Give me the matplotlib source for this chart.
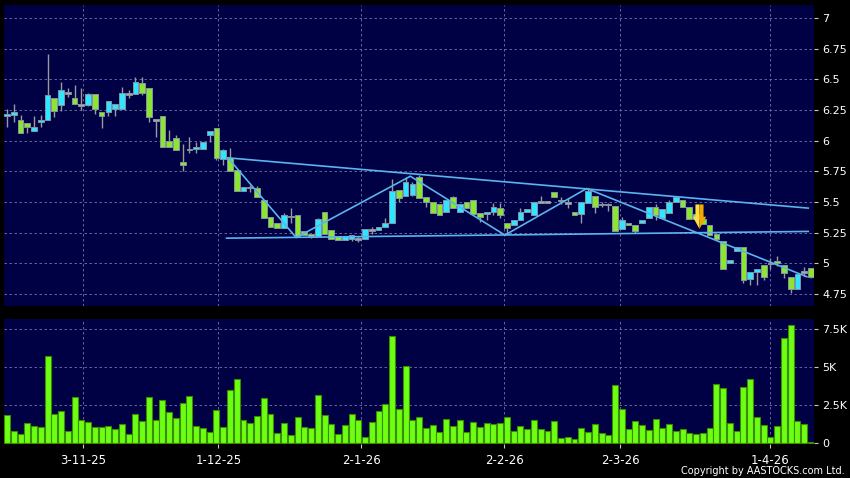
import matplotlib.pyplot as plt
import numpy as np

# daily OHLC (120 trading days, 3-11-25 .. early 4-26)
opens = [6.20, 6.21, 6.17, 6.14, 6.08, 6.15, 6.17, 6.35, 6.29, 6.39,
         6.35, 6.29, 6.29, 6.38, 6.23, 6.23, 6.26, 6.26, 6.38, 6.38,
         6.47, 6.43, 6.17, 6.20, 6.00, 6.02, 5.83, 5.93, 5.93, 5.93,
         6.05, 6.10, 5.85, 5.86, 5.76, 5.59, 5.62, 5.61, 5.52, 5.38,
         5.33, 5.29, 5.38, 5.39, 5.26, 5.24, 5.22, 5.42, 5.27, 5.22,
         5.19, 5.20, 5.20, 5.20, 5.27, 5.27, 5.30, 5.33, 5.60, 5.55,
         5.56, 5.70, 5.54, 5.50, 5.48, 5.42, 5.54, 5.42, 5.50, 5.52,
         5.41, 5.40, 5.42, 5.45, 5.33, 5.31, 5.35, 5.42, 5.39, 5.50,
         5.50, 5.58, 5.51, 5.49, 5.42, 5.40, 5.49, 5.55, 5.48, 5.48,
         5.47, 5.28, 5.33, 5.31, 5.33, 5.37, 5.46, 5.37, 5.41, 5.50,
         5.52, 5.46, 5.40, 5.36, 5.31, 5.24, 5.18, 5.00, 5.10, 5.13,
         4.87, 4.93, 4.99, 5.00, 5.02, 4.99, 4.89, 4.79, 4.93, 4.96]
highs = [6.26, 6.30, 6.21, 6.14, 6.20, 6.21, 6.71, 6.35, 6.48, 6.43,
         6.45, 6.43, 6.39, 6.38, 6.23, 6.32, 6.30, 6.44, 6.41, 6.52,
         6.52, 6.43, 6.17, 6.20, 6.09, 6.05, 5.97, 6.03, 5.99, 5.99,
         6.08, 6.10, 5.93, 5.94, 5.76, 5.62, 5.64, 5.63, 5.52, 5.38,
         5.33, 5.41, 5.45, 5.39, 5.26, 5.24, 5.37, 5.42, 5.27, 5.22,
         5.22, 5.23, 5.22, 5.28, 5.30, 5.30, 5.37, 5.69, 5.60, 5.70,
         5.66, 5.72, 5.54, 5.50, 5.48, 5.52, 5.55, 5.48, 5.50, 5.52,
         5.41, 5.42, 5.49, 5.49, 5.33, 5.35, 5.45, 5.44, 5.50, 5.55,
         5.50, 5.58, 5.54, 5.53, 5.42, 5.50, 5.61, 5.55, 5.50, 5.49,
         5.47, 5.38, 5.33, 5.31, 5.35, 5.46, 5.48, 5.44, 5.52, 5.54,
         5.52, 5.46, 5.40, 5.36, 5.31, 5.24, 5.18, 5.03, 5.13, 5.13,
         4.93, 4.95, 4.99, 5.04, 5.06, 4.99, 4.89, 4.91, 4.97, 4.96]
lows = [6.11, 6.15, 6.06, 6.06, 6.08, 6.11, 6.17, 6.19, 6.24, 6.36,
        6.30, 6.25, 6.28, 6.22, 6.10, 6.20, 6.20, 6.26, 6.35, 6.38,
        6.37, 6.15, 6.03, 5.95, 5.95, 5.92, 5.75, 5.90, 5.90, 5.93,
        5.99, 5.84, 5.80, 5.75, 5.59, 5.59, 5.58, 5.54, 5.37, 5.30,
        5.29, 5.29, 5.33, 5.22, 5.23, 5.21, 5.22, 5.24, 5.20, 5.19,
        5.19, 5.18, 5.17, 5.20, 5.24, 5.27, 5.30, 5.33, 5.50, 5.55,
        5.55, 5.53, 5.46, 5.41, 5.39, 5.42, 5.45, 5.42, 5.45, 5.40,
        5.34, 5.35, 5.39, 5.37, 5.25, 5.31, 5.35, 5.42, 5.39, 5.50,
        5.50, 5.54, 5.48, 5.45, 5.39, 5.33, 5.49, 5.41, 5.46, 5.43,
        5.26, 5.28, 5.31, 5.25, 5.33, 5.37, 5.35, 5.37, 5.41, 5.50,
        5.46, 5.36, 5.36, 5.32, 5.23, 5.20, 4.95, 5.00, 5.10, 4.84,
        4.82, 4.82, 4.86, 4.95, 4.98, 4.88, 4.76, 4.79, 4.90, 4.88]
closes = [6.22, 6.23, 6.06, 6.11, 6.11, 6.17, 6.37, 6.24, 6.41, 6.39,
          6.30, 6.29, 6.38, 6.26, 6.20, 6.32, 6.30, 6.39, 6.38, 6.48,
          6.39, 6.19, 6.17, 5.95, 5.95, 5.92, 5.80, 5.93, 5.95, 5.99,
          6.08, 5.86, 5.92, 5.75, 5.59, 5.62, 5.62, 5.54, 5.37, 5.30,
          5.29, 5.39, 5.38, 5.22, 5.23, 5.22, 5.36, 5.24, 5.20, 5.19,
          5.22, 5.23, 5.20, 5.28, 5.27, 5.30, 5.33, 5.59, 5.53, 5.66,
          5.65, 5.53, 5.50, 5.41, 5.39, 5.52, 5.45, 5.48, 5.45, 5.40,
          5.38, 5.42, 5.46, 5.39, 5.29, 5.35, 5.42, 5.44, 5.50, 5.50,
          5.50, 5.54, 5.51, 5.49, 5.39, 5.50, 5.59, 5.46, 5.48, 5.48,
          5.26, 5.35, 5.31, 5.26, 5.35, 5.46, 5.39, 5.44, 5.50, 5.54,
          5.46, 5.36, 5.36, 5.32, 5.23, 5.20, 4.95, 5.03, 5.13, 4.86,
          4.93, 4.95, 4.89, 5.00, 5.00, 4.92, 4.79, 4.91, 4.93, 4.89]
# volume in thousands
volumes = [1.84, 0.81, 0.57, 1.33, 1.12, 1.05, 5.75, 1.88, 2.08, 0.81,
           3.00, 1.53, 1.40, 1.05, 1.09, 1.12, 0.94, 1.25, 0.63, 1.92,
           1.47, 3.02, 1.55, 2.84, 2.06, 1.64, 2.65, 3.10, 1.14, 0.98,
           0.72, 2.19, 1.05, 3.46, 4.20, 1.55, 1.29, 1.77, 2.97, 1.88,
           0.68, 1.33, 0.55, 1.71, 1.03, 0.98, 3.13, 1.86, 1.27, 0.59,
           1.22, 1.88, 1.49, 0.42, 1.40, 2.14, 2.56, 7.02, 2.25, 5.07,
           1.49, 1.71, 0.96, 1.16, 0.74, 1.60, 1.14, 1.53, 0.72, 1.40,
           1.05, 1.33, 1.27, 1.29, 1.71, 0.79, 1.14, 0.94, 1.51, 0.94,
           0.79, 1.47, 0.35, 0.37, 0.26, 1.01, 0.70, 1.25, 0.68, 0.50,
           3.85, 2.23, 0.90, 1.47, 1.18, 0.83, 1.60, 0.98, 1.27, 0.81,
           0.92, 0.68, 0.57, 0.68, 0.98, 3.87, 3.65, 1.31, 0.77, 3.67,
           4.24, 1.71, 1.16, 0.42, 1.12, 6.91, 7.76, 1.47, 1.27, 0.05]

date_pos = [11.2, 31.3, 52.4, 73.6, 90.8, 113.0]
date_labels = ['3-11-25', '1-12-25', '2-1-26', '2-2-26', '2-3-26', '1-4-26']
price_ticks = [4.75, 5, 5.25, 5.5, 5.75, 6, 6.25, 6.5, 6.75, 7]
vol_ticks = [0, 2.5, 5, 7.5]

# hand drawn lines on the chart: (bar index, price)
upper_line = ([32.7, 118.6], [5.86, 5.45])
base_line = ([32.5, 118.6], [5.205, 5.26])
zigzag = ([32.7, 42.8, 59.7, 73.7, 85.8, 118.4], [5.86, 5.21, 5.71, 5.23, 5.61, 4.89])
arrow_x, arrow_top, arrow_neck, arrow_tip = 102.5, 5.48, 5.38, 5.28

BG = '#000044'
UP = '#2ee6ff'
DOWN = '#8ae62e'
GRID = '#7474aa'
LINE = '#5ab4ee'

fig = plt.figure(figsize=(8.5, 4.78), dpi=100, facecolor='black')
ax = fig.add_axes([4/850, 1-306/478, 810/850, 301/478], facecolor=BG)
axv = fig.add_axes([4/850, 1-444/478, 810/850, 125/478], facecolor=BG)

o = np.array(opens); h = np.array(highs); l = np.array(lows); c = np.array(closes)
x = np.arange(len(o))

cols = np.where(c > o, UP, np.where(c < o, DOWN, '#a8a8a8'))
body_lo = np.minimum(o, c)
body_h = np.maximum(np.abs(c - o), 0.012)
ax.vlines(x, l, h, color='#9a9a9a', linewidth=1, zorder=2)
ax.bar(x, body_h, bottom=body_lo - np.where(c == o, 0.006, 0), width=0.85,
       color=cols, edgecolor='#8494a4', linewidth=0.7, zorder=3)

ax.plot(*upper_line, color=LINE, linewidth=1.2, zorder=4)
ax.plot(*base_line, color=LINE, linewidth=1.2, zorder=4)
ax.plot(*zigzag, color=LINE, linewidth=1.2, zorder=4)

# yellow sell arrow, left half lighter than right half
sw, hw = 0.6, 1.0
ax.fill([arrow_x, arrow_x - sw, arrow_x - sw, arrow_x - hw, arrow_x],
        [arrow_top, arrow_top, arrow_neck, arrow_neck, arrow_tip],
        color='#ffe040', linewidth=0, zorder=6)
ax.fill([arrow_x, arrow_x + sw, arrow_x + sw, arrow_x + hw, arrow_x],
        [arrow_top, arrow_top, arrow_neck, arrow_neck, arrow_tip],
        color='#f2a800', linewidth=0, zorder=6)

axv.bar(x, volumes, width=0.88, color='#6cff14', edgecolor='#3c8c00', linewidth=0.8, zorder=3)

for a in (ax, axv):
    a.set_xlim(-0.45, 119.45)
    a.set_xticks(date_pos)
    a.grid(True, color=GRID, linestyle=(0, (3, 3)), linewidth=0.6, zorder=0)
    a.yaxis.tick_right()
    a.tick_params(axis='y', direction='out', length=3, color='#c8c8c8',
                  labelcolor='white', labelsize=8, pad=3)
    for s in a.spines.values():
        s.set_visible(False)

ax.set_ylim(4.652, 7.106)
ax.set_yticks(price_ticks)
ax.set_yticklabels(['{:g}'.format(t) for t in price_ticks])
ax.tick_params(axis='x', length=0, labelbottom=False)

axv.set_ylim(-0.06, 8.16)
axv.set_yticks(vol_ticks)
axv.set_yticklabels(['{:g}K'.format(t) if t else '0' for t in vol_ticks])
axv.yaxis.grid(False)
for t in vol_ticks[1:]:
    axv.axhline(t, color=GRID, linestyle=(0, (3, 3)), linewidth=0.6, zorder=0)
axv.set_xticklabels(date_labels)
axv.tick_params(axis='x', direction='out', length=3, color='#c8c8c8',
                labelcolor='white', labelsize=8.5, pad=4)

fig.text(0.994, 0.004, 'Copyright by AASTOCKS.com Ltd.', ha='right', va='bottom',
         color='white', fontsize=7)

fig.savefig('out.png', dpi=100, facecolor='black')
